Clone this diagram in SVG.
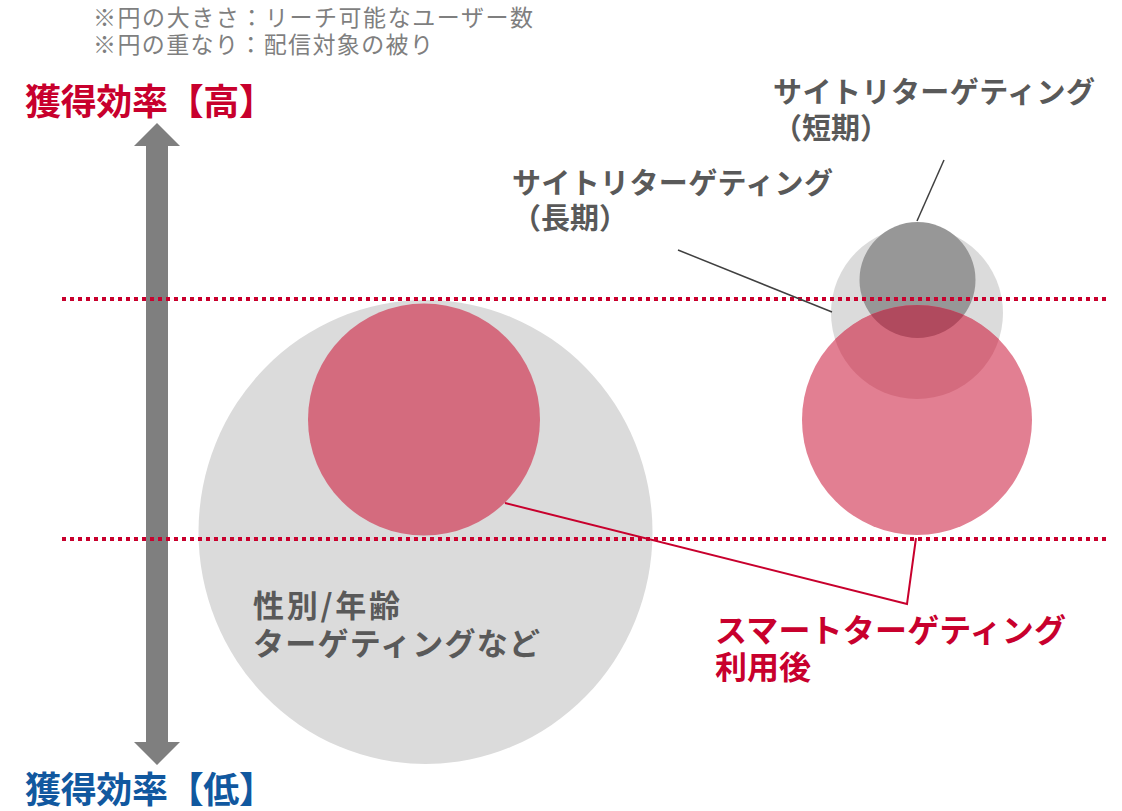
<svg xmlns="http://www.w3.org/2000/svg" width="1122" height="811" viewBox="0 0 1122 811">
<style>
.note{font-family:"Noto Sans CJK JP","Noto Sans",sans-serif;font-size:23px;fill:#7f7f7f}
.lbl{font-family:"Noto Sans CJK JP","Noto Sans",sans-serif;font-weight:bold;fill:#595959}
.red{font-family:"Noto Sans CJK JP","Noto Sans",sans-serif;font-weight:bold;fill:#c8002d}
.blue{font-family:"Noto Sans CJK JP","Noto Sans",sans-serif;font-weight:bold;fill:#11589f}
.dot{stroke:#c8002d;stroke-width:4;stroke-dasharray:4 4;fill:none}
.lead{stroke:#404040;stroke-width:1.5;fill:none}
.leadr{stroke:#c8002d;stroke-width:2;fill:none}
</style>
<defs>
<clipPath id="cpLight"><circle cx="917" cy="313" r="86"/></clipPath>
<clipPath id="cpDark"><circle cx="917.5" cy="280" r="58"/></clipPath>
</defs>
<rect width="1122" height="811" fill="#ffffff"/>
<g id="notes">
<text class="note" x="93" y="26" textLength="440" lengthAdjust="spacing">※円の大きさ：リーチ可能なユーザー数</text>
<text class="note" x="93" y="53" textLength="340" lengthAdjust="spacing">※円の重なり：配信対象の被り</text>
</g>
<g id="axis">
<polygon points="157,123 180,146 168,146 168,742 180,742 157,765 134,742 146,742 146,146 134,146" fill="#7f7f7f"/>
<text class="red" x="25" y="115" font-size="36" textLength="250" lengthAdjust="spacing">獲得効率【高】</text>
<text class="blue" x="25" y="803" font-size="36" textLength="250" lengthAdjust="spacing">獲得効率【低】</text>
</g>
<g id="node-demographic">
<ellipse cx="425.5" cy="532" rx="227" ry="232" fill="#dbdbdb"/>
<circle cx="424" cy="419.5" r="116" fill="#d46b7e"/>
<text class="lbl" x="253" y="617" font-size="31" textLength="147" lengthAdjust="spacing">性別/年齢</text>
<text class="lbl" x="253" y="655" font-size="31" textLength="287" lengthAdjust="spacing">ターゲティングなど</text>
</g>
<g id="node-retarget">
<circle cx="917" cy="313" r="86" fill="#dbdbdb"/>
<circle cx="917.5" cy="280" r="58" fill="#979797"/>
<circle cx="917" cy="420" r="115" fill="#e27f92"/>
<circle cx="917" cy="420" r="115" fill="#d46b7e" clip-path="url(#cpLight)"/>
<circle cx="917" cy="420" r="115" fill="#b04a5e" clip-path="url(#cpDark)"/>
</g>
<g id="guides">
<line class="dot" x1="62" y1="299" x2="1106" y2="299"/>
<line class="dot" x1="62" y1="539" x2="1106" y2="539"/>
</g>
<g id="connectors">
<line class="lead" x1="944" y1="160" x2="917" y2="221"/>
<line class="lead" x1="678" y1="250" x2="832" y2="312"/>
<polyline class="leadr" points="505,503 907,604 916,538"/>
</g>
<g id="label-short">
<text class="lbl" x="773" y="103" font-size="29" textLength="322" lengthAdjust="spacing">サイトリターゲティング</text>
<text class="lbl" x="773" y="139" font-size="29">（短期）</text>
</g>
<g id="label-long">
<text class="lbl" x="512" y="194" font-size="29" textLength="321" lengthAdjust="spacing">サイトリターゲティング</text>
<text class="lbl" x="512" y="229" font-size="29">（長期）</text>
</g>
<g id="label-smart">
<text class="red" x="715" y="642" font-size="32" textLength="351" lengthAdjust="spacing">スマートターゲティング</text>
<text class="red" x="715" y="679" font-size="32">利用後</text>
</g>
</svg>
